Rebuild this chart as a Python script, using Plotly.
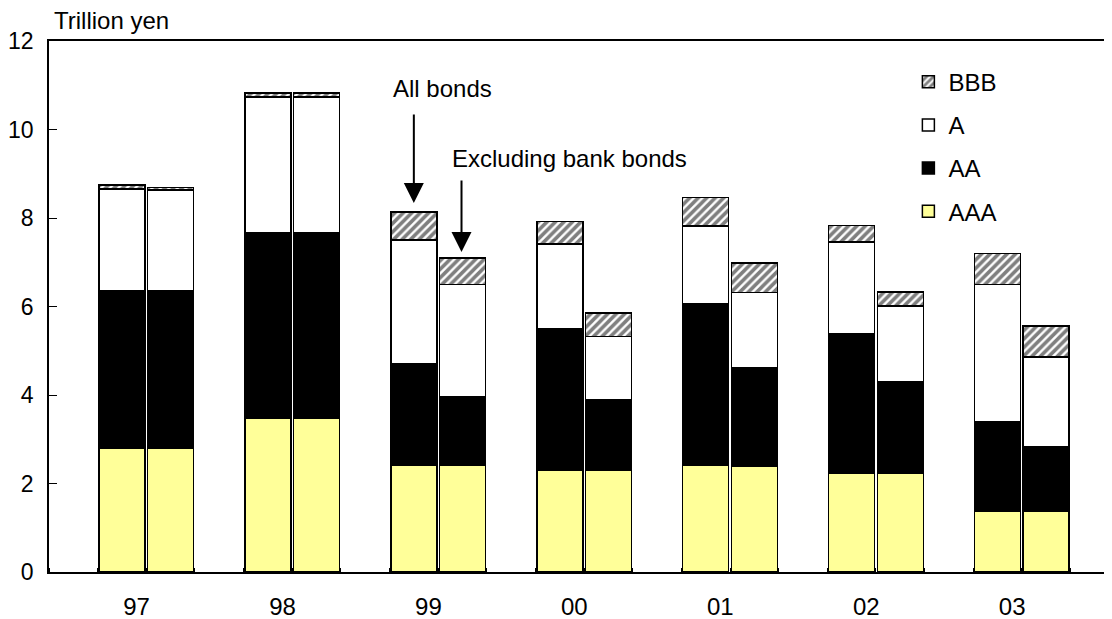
import plotly.graph_objects as go

years = ["97", "98", "99", "00", "01", "02", "03"]
ratings = ["AAA", "AA", "A", "BBB"]

# all bonds (left bar of each pair), trillion yen
all_aaa = [2.80, 3.48, 2.42, 2.29, 2.42, 2.24, 1.38]
all_aa = [3.55, 4.18, 2.29, 3.20, 3.65, 3.15, 2.02]
all_a = [2.30, 3.08, 2.79, 1.92, 1.75, 2.07, 3.10]
all_bbb = [0.10, 0.08, 0.64, 0.51, 0.64, 0.37, 0.70]

# excluding bank bonds (right bar of each pair)
ex_aaa = [2.80, 3.48, 2.42, 2.29, 2.38, 2.24, 1.38]
ex_aa = [3.55, 4.18, 1.53, 1.61, 2.24, 2.07, 1.44]
ex_a = [2.28, 3.08, 2.55, 1.42, 1.70, 1.70, 2.04]
ex_bbb = [0.06, 0.08, 0.60, 0.53, 0.66, 0.32, 0.70]

FONT = "Liberation Sans, Arial, sans-serif"
FS = 24

# each year takes three slots: bar, bar, gap (first slot empty)
x_all = [3 * i + 1.5 for i in range(len(years))]
x_ex = [3 * i + 2.5 for i in range(len(years))]
xs = x_all + x_ex

styles = {
    "AAA": dict(color="#FFFF99"),
    "AA": dict(color="#000000"),
    "A": dict(color="#FFFFFF"),
    "BBB": dict(color="#FFFFFF", pattern=dict(shape="/", fgcolor="#000000",
                                               bgcolor="#FFFFFF", size=6, solidity=0.6)),
}
series = {
    "AAA": all_aaa + ex_aaa,
    "AA": all_aa + ex_aa,
    "A": all_a + ex_a,
    "BBB": all_bbb + ex_bbb,
}

fig = go.Figure()
for i, r in enumerate(ratings):
    fig.add_trace(go.Bar(
        x=xs, y=series[r], name=r, width=0.945,
        legendgroup=r, legendrank=len(ratings) - i,
        marker=dict(**styles[r], line=dict(color="#000000", width=1.5)),
    ))

# page body adds an 8px offset, so the figure is 8px smaller
fig.update_layout(
    width=1104, height=611,
    barmode="stack",
    paper_bgcolor="white", plot_bgcolor="white",
    margin=dict(l=41, r=4, t=33, b=47),
    font=dict(family=FONT, size=FS, color="#000000"),
    showlegend=True,
    legend=dict(x=0.8115, y=0.965, xanchor="left", yanchor="top",
                traceorder="grouped", tracegroupgap=9,
                font=dict(size=FS), bgcolor="rgba(0,0,0,0)"),
)

fig.update_xaxes(
    range=[0, 21.77], showgrid=False, zeroline=False, automargin=False,
    showline=True, linecolor="#000000", linewidth=1.5, mirror=True,
    tickmode="array", tickvals=[3 * i + 1.8 for i in range(len(years))],
    ticktext=years, ticks="", ticklabelstandoff=12,
    minor=dict(ticks="inside", tick0=0, dtick=1, ticklen=4,
               tickcolor="#000000", tickwidth=1.2, showgrid=False),
)
fig.update_yaxes(
    range=[0, 12], dtick=2, showgrid=False, zeroline=False, automargin=False,
    showline=True, linecolor="#000000", linewidth=1.5,
    ticks="inside", ticklen=8, tickwidth=1.2, tickcolor="#000000",
    ticklabelstandoff=9, tickfont=dict(size=23),
)

fig.add_annotation(text="Trillion yen", xref="paper", yref="paper",
                   x=3 / 1059, y=(572 - 20) / 531, xanchor="left", yanchor="middle",
                   showarrow=False)

fig.add_annotation(text="All bonds", x=x_all[2] + 0.58, y=10.93, xanchor="center",
                   yanchor="middle", showarrow=False)
fig.add_annotation(text="", x=x_all[2], y=8.34, ax=0, ay=-90,
                   showarrow=True, arrowhead=2, arrowsize=2, arrowwidth=2,
                   arrowcolor="#000000")
fig.add_annotation(text="Excluding bank bonds", x=x_ex[2] + 2.21, y=9.35,
                   xanchor="center", yanchor="middle", showarrow=False)
fig.add_annotation(text="", x=x_ex[2] - 0.02, y=7.23, ax=0, ay=-73,
                   showarrow=True, arrowhead=2, arrowsize=2, arrowwidth=2,
                   arrowcolor="#000000")

fig.write_html("out.html")
